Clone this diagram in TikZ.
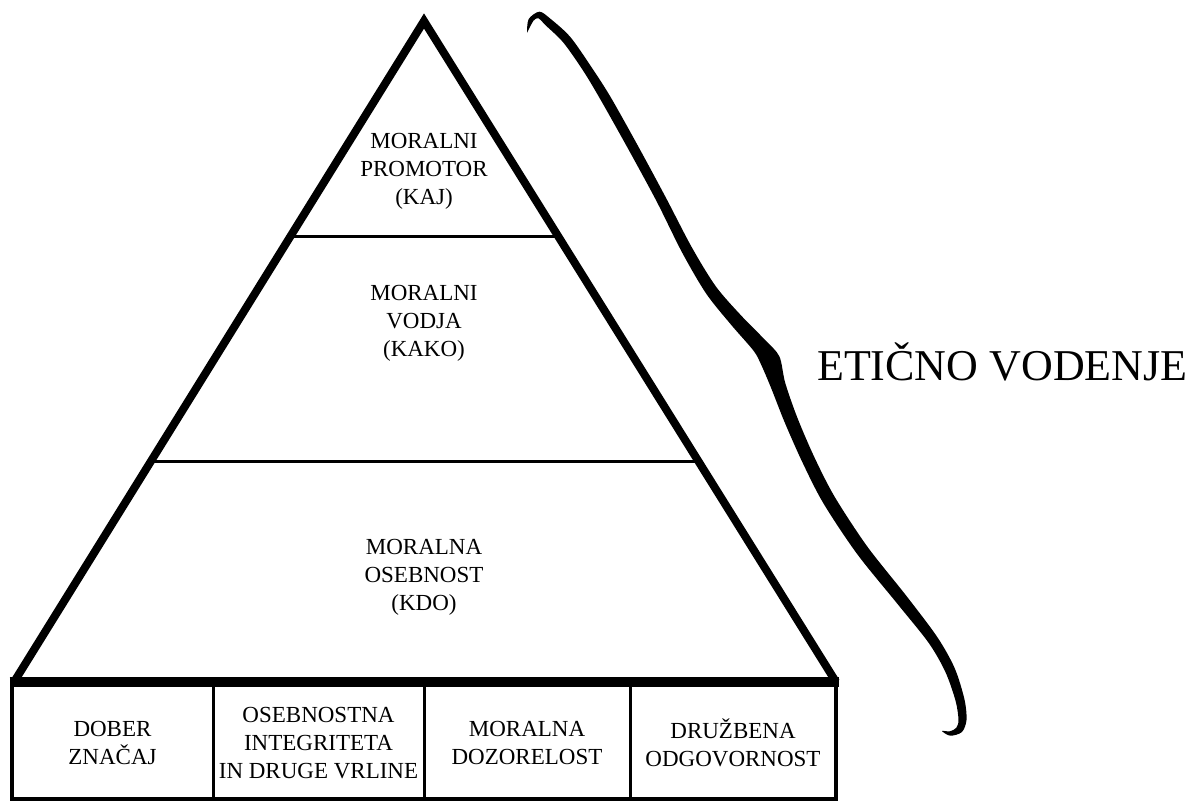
\documentclass[tikz,border=0pt]{standalone}
\usepackage{fontspec}
\setmainfont{Liberation Serif}
\usetikzlibrary{calc}
\begin{document}
\begin{tikzpicture}[x=1pt,y=-1pt,
  lbl/.style={align=center,inner sep=0pt,font=\fontsize{23}{28}\selectfont},
  thin line/.style={line width=3pt},
  side line/.style={line width=8pt,line join=miter,miter limit=20}]
\useasboundingbox (0,0) rectangle (1197,802);
% pyramid
\coordinate (apex) at (424,21);
\coordinate (bl) at (14,682);
\coordinate (br) at (836,682);
\draw[side line] (bl) -- (apex) -- (br);
\coordinate (l1) at ($(bl)!0.6747!(apex)$);
\coordinate (r1) at ($(br)!0.6747!(apex)$);
\coordinate (l2) at ($(bl)!0.3343!(apex)$);
\coordinate (r2) at ($(br)!0.3343!(apex)$);
\draw[thin line] (l1) -- (r1);
\draw[thin line] (l2) -- (r2);
% pyramid labels
\node[lbl] (t1) at (424,171) {MORALNI\\PROMOTOR\\(KAJ)};
\node[lbl] (t2) at (424,323) {MORALNI\\VODJA\\(KAKO)};
\node[lbl] (t3) at (424,577) {MORALNA\\OSEBNOST\\(KDO)};
% base box
\draw[line width=4pt] (12,682) rectangle (836,799);
\draw[line width=10pt] (9.5,682) -- (838.5,682);
\draw[thin line] (213,682) -- (213,799);
\draw[thin line] (424,682) -- (424,799);
\draw[thin line] (630,682) -- (630,799);
\node[lbl] (b1) at (112.5,743) {DOBER\\ZNAČAJ};
\node[lbl] (b2) at (318.5,743) {OSEBNOSTNA\\INTEGRITETA\\IN DRUGE VRLINE};
\node[lbl] (b3) at (527,743) {MORALNA\\DOZORELOST};
\node[lbl] (b4) at (733,743) {DRUŽBENA\\ODGOVORNOST};
% brace
\fill plot[smooth,tension=0.5] coordinates {
 (527,33) (528.6,19.2) (539.4,11.7) (550.7,19.0) (570.4,37.1) (591.7,67.5)
 (610.8,97.4) (638.9,147.6) (665.9,197.7) (691.9,247.5) (715.9,286.5) (741.2,315.6)
 (764.7,339.6) (779.3,356.3) (785.2,382.8) (797.3,417.6) (814.4,457.3) (834.6,496.7)
 (867.1,546.3) (906.7,596.3) (937.3,637.1) (954.6,668) (964.4,699.1) (966.5,720)
 (961.8,732.1) (950.2,735.7) (942,731)
 (949.8,731.3) (956.2,727.9) (958.5,720) (955.6,700.9) (945.4,672) (928.7,642.9)
 (897.3,603.7) (856.9,553.7) (823.4,503.3) (802.6,462.7) (784.7,422.4) (770.8,387.2)
 (760.7,363.7) (753.3,350.4) (730.8,324.4) (706.1,293.5) (682.1,252.5) (657.1,202.3)
 (630.1,152.4) (602.2,102.6) (584.3,72.5) (563.6,42.9) (545.3,25.0) (538.6,18.3)
 (533.4,20.8) (527,33)} -- cycle;
\node[anchor=base west,inner sep=0pt,font=\fontsize{44}{50}\selectfont] (title) at (817,381) {ETIČNO VODENJE};
\end{tikzpicture}
\end{document}
